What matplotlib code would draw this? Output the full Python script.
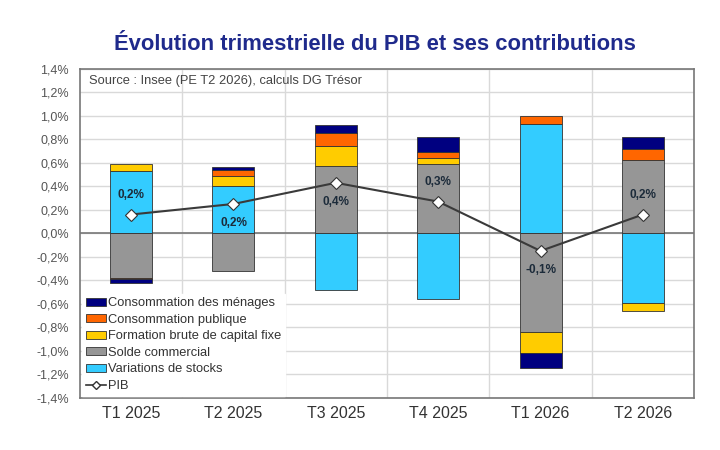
import matplotlib
matplotlib.use('Agg')
import matplotlib.pyplot as plt
import numpy as np
from matplotlib.ticker import FuncFormatter
from matplotlib.lines import Line2D
from matplotlib.patches import Patch

plt.rcParams['font.family'] = ['Liberation Sans', 'DejaVu Sans']

trimestres = ['T1 2025', 'T2 2025', 'T3 2025', 'T4 2025', 'T1 2026', 'T2 2026']

# contributions en points de %, ordre d'empilement (du bas vers le haut)
stocks = [0.53, 0.40, -0.48, -0.56, 0.93, -0.59]
solde = [-0.38, -0.32, 0.57, 0.59, -0.84, 0.62]
fbcf = [0.06, 0.09, 0.17, 0.05, -0.18, -0.07]
conso_pub = [-0.01, 0.045, 0.11, 0.05, 0.07, 0.10]
conso_men = [-0.03, 0.03, 0.07, 0.13, -0.13, 0.10]
pib = [0.16, 0.25, 0.43, 0.27, -0.15, 0.16]
pib_labels = ['0,2%', '0,2%', '0,4%', '0,3%', '-0,1%', '0,2%']
label_pos = ['above', 'below', 'below', 'above', 'below', 'above']

series = [
    ('Variations de stocks', stocks, '#33ccff'),
    ('Solde commercial', solde, '#969696'),
    ('Formation brute de capital fixe', fbcf, '#ffcc00'),
    ('Consommation publique', conso_pub, '#ff6600'),
    ('Consommation des ménages', conso_men, '#000080'),
]

fig = plt.figure(figsize=(7.2, 4.5), dpi=100)
ax = fig.add_axes([0.111, 0.116, 0.853, 0.731])

x = np.arange(len(trimestres))
pos_base = np.zeros(len(x))
neg_base = np.zeros(len(x))
for name, vals, col in series:
    v = np.array(vals)
    base = np.where(v >= 0, pos_base, neg_base)
    ax.bar(x, v, bottom=base, width=0.41, color=col, edgecolor='#333333',
           linewidth=0.6, zorder=3)
    pos_base += np.where(v >= 0, v, 0)
    neg_base += np.where(v < 0, v, 0)

ax.plot(x, pib, color='#3a3a3a', linewidth=1.5, marker='D', markersize=6.5,
        markerfacecolor='white', markeredgecolor='#333333', markeredgewidth=0.8,
        zorder=5)

for xi, yi, lab, p in zip(x, pib, pib_labels, label_pos):
    dy = 0.165 if p == 'above' else -0.165
    ax.text(xi, yi + dy, lab, ha='center', va='center', fontsize=8.5,
            fontweight='bold', color='#1c2b3a', zorder=6)

ax.set_xlim(-0.5, len(x) - 0.5)
ax.set_ylim(-1.4, 1.4)
ax.set_yticks(np.arange(-1.4, 1.41, 0.2))
ax.yaxis.set_major_formatter(FuncFormatter(lambda v, _: f'{v:.1f}%'.replace('.', ',').replace('-0,0', '0,0')))
ax.set_xticks(x)
ax.set_xticklabels(trimestres, fontsize=11.5, color='#333333')
ax.tick_params(axis='y', labelsize=9, labelcolor='#555555', length=0, pad=8)
ax.tick_params(axis='x', length=0, pad=6)

# grille
for yv in np.arange(-1.4, 1.41, 0.2):
    ax.axhline(yv, color='#d9d9d9', linewidth=1.0, zorder=1)
for xb in np.arange(0.5, len(x) - 0.5, 1):
    ax.axvline(xb, color='#d9d9d9', linewidth=1.0, zorder=1)
ax.axhline(0, color='#777777', linewidth=1.2, zorder=2)
for s in ax.spines.values():
    s.set_color('#777777')
    s.set_linewidth(1.2)

ax.text(0.014, 0.963, 'Source : Insee (PE T2 2026), calculs DG Trésor',
        transform=ax.transAxes, fontsize=9.3, color='#444444', va='center')

handles = [Patch(facecolor=col, edgecolor='#333333', linewidth=0.6, label=name)
           for name, vals, col in reversed(series)]
handles.append(Line2D([], [], color='#333333', linewidth=1.2, marker='D',
                      markersize=4, markerfacecolor='white', label='PIB'))
leg = ax.legend(handles=handles, loc='lower left', bbox_to_anchor=(0.0, 0.0),
                fontsize=9.3, frameon=True, fancybox=False, framealpha=1,
                edgecolor='white', handlelength=1.6, handleheight=0.55,
                handletextpad=0.15, labelspacing=0.35, borderpad=0.3,
                borderaxespad=0.15)
leg.set_zorder(10)
for t in leg.get_texts():
    t.set_color('#333333')

fig.text(0.521, 0.9, 'Évolution trimestrielle du PIB et ses contributions',
         ha='center', va='center', fontsize=15.8, fontweight='bold',
         color='#1f2a8c')

fig.savefig('out.png', dpi=100, facecolor='white')
